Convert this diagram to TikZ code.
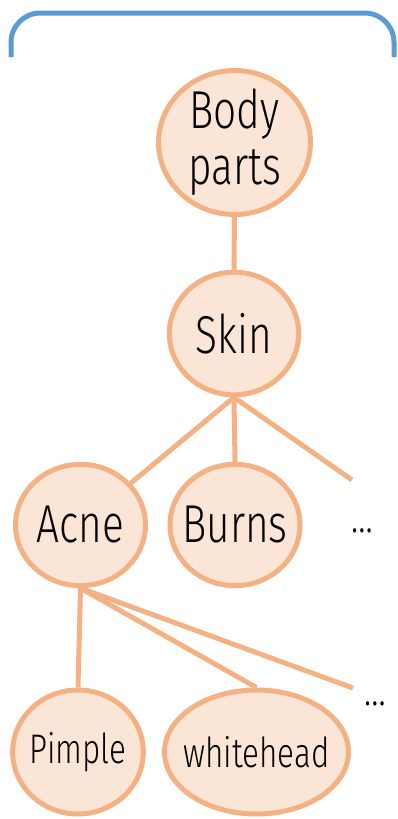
\documentclass[tikz,border=0pt]{standalone}
\usepackage{fontspec}
\setmainfont{Fira Sans Light}[FakeStretch=0.76]
\usepackage{tikz}
\usetikzlibrary{shapes.geometric, positioning}

\definecolor{peachline}{HTML}{F4B183}
\definecolor{peachfill}{HTML}{FBE5D6}
\definecolor{bracketblue}{HTML}{5B9BD5}

\begin{document}
\begin{tikzpicture}[
x=0.75pt, y=-0.75pt,
    topic/.style={ellipse, draw=peachline, fill=peachfill, line width=3.75pt, inner xsep=-15pt, inner ysep=-10pt, align=center, font=\fontsize{40}{42}\selectfont},
    leaf/.style={topic, font=\fontsize{31}{32}\selectfont},
    more/.style={inner sep=0pt, font=\fontsize{34}{36}\selectfont},
    line/.style={draw=peachline, line width=3.75pt},
    bracket/.style={draw=bracketblue, line width=3.75pt, rounded corners=22pt}
]
    \useasboundingbox (0,0) rectangle (398,819);

    % ================= BRACKET =================
    \draw[bracket] (11,57) -- (11,13) -- (394,13) -- (394,57);

    % ================= NODES =================
    \node[topic, minimum width=114pt, minimum height=108pt] (Body) at (234.5,142.5) {Body\\parts};
    \node[topic, minimum width=97pt, minimum height=92pt] (Skin) at (234,333.5) {Skin};

    \node[topic, minimum width=97.5pt, minimum height=91pt] (Acne) at (80.5,525) {Acne};
    \node[topic, minimum width=97.5pt, minimum height=91pt] (Burns) at (235,525) {Burns};
    \node[more] (skin_more) at (362,531) {\ldots};
    \coordinate (skin_end) at (352,480);

    \node[leaf, minimum width=98pt, minimum height=93pt] (Pimple) at (78,752) {Pimple};
    \node[leaf, minimum width=138pt, minimum height=93pt] (White) at (256.5,752) {whitehead};
    \node[more] (acne_more) at (375,704) {\ldots};
    \coordinate (acne_end) at (353,688);

    % ================= EDGES =================
    \draw[line] (Body) -- (Skin);

    \draw[line] (Skin.south) -- (Acne);
    \draw[line] (Skin.south) -- (Burns.north);
    \draw[line] (Skin.south) -- (skin_end);

    \draw[line] (Acne.south) -- (Pimple.north);
    \draw[line] (Acne.south) -- (White.north);
    \draw[line] (Acne.south) -- (acne_end);

\end{tikzpicture}
\end{document}
